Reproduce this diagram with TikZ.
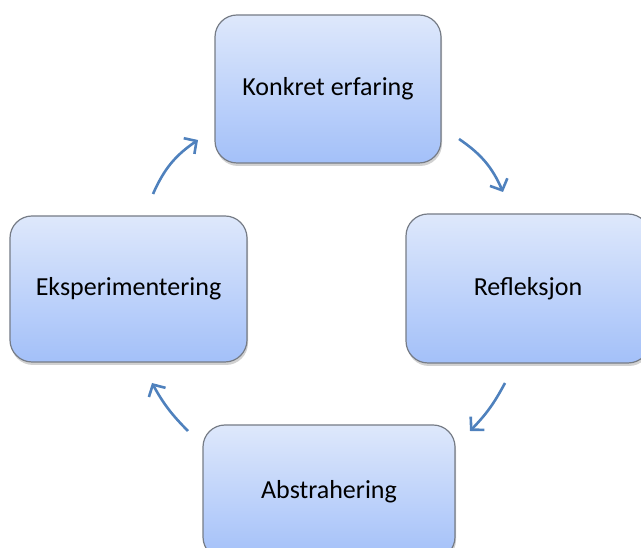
\documentclass[tikz,border=0pt]{standalone}
\usepackage{fontspec}
\setmainfont{Carlito}
\usetikzlibrary{arrows.meta,shadows}
\definecolor{boxtop}{RGB}{222,232,251}
\definecolor{boxbot}{RGB}{163,192,249}
\definecolor{boxline}{RGB}{118,124,134}
\definecolor{arrowblue}{RGB}{79,129,189}
\tikzset{
  stagebox/.style={draw=boxline, line width=1.2bp, rounded corners=22bp,
    top color=boxtop, bottom color=boxbot, inner sep=0pt,
    font=\fontsize{26bp}{30bp}\selectfont, text=black,
    drop shadow={shadow xshift=1bp, shadow yshift=-3bp, opacity=0.3, fill=black!60}},
  cyclearrow/.style={draw=arrowblue, line width=2.6bp,
    -{Straight Barb[length=9bp,width=19bp]}, bend left=16}
}
\begin{document}
\begin{tikzpicture}[x=1bp,y=1bp]
\useasboundingbox (0,0) rectangle (641,548);
\clip (0,0) rectangle (641,548);
% nodes (y = 548 - pixel row)
\node[stagebox, minimum width=226bp, minimum height=148bp] (k) at (328,459) {Konkret erfaring};
\node[stagebox, minimum width=244bp, minimum height=149bp] (r) at (528,259.5) {Refleksjon};
\node[stagebox, minimum width=252bp, minimum height=134bp] (a) at (329,56) {Abstrahering};
\node[stagebox, minimum width=237bp, minimum height=146bp] (e) at (128.5,259) {Eksperimentering};
% arrow end points
\coordinate (k1) at (459,409);
\coordinate (r1) at (503,356);
\coordinate (r2) at (505,165);
\coordinate (a1) at (470,117);
\coordinate (a2) at (188,117);
\coordinate (e1) at (152,165);
\coordinate (e2) at (153,354);
\coordinate (k2) at (198,408);
\draw[cyclearrow] (k1) to (r1);
\draw[cyclearrow, bend left=8] (r2) to (a1);
\draw[cyclearrow, bend left=8] (a2) to (e1);
\draw[cyclearrow] (e2) to (k2);
\end{tikzpicture}
\end{document}
